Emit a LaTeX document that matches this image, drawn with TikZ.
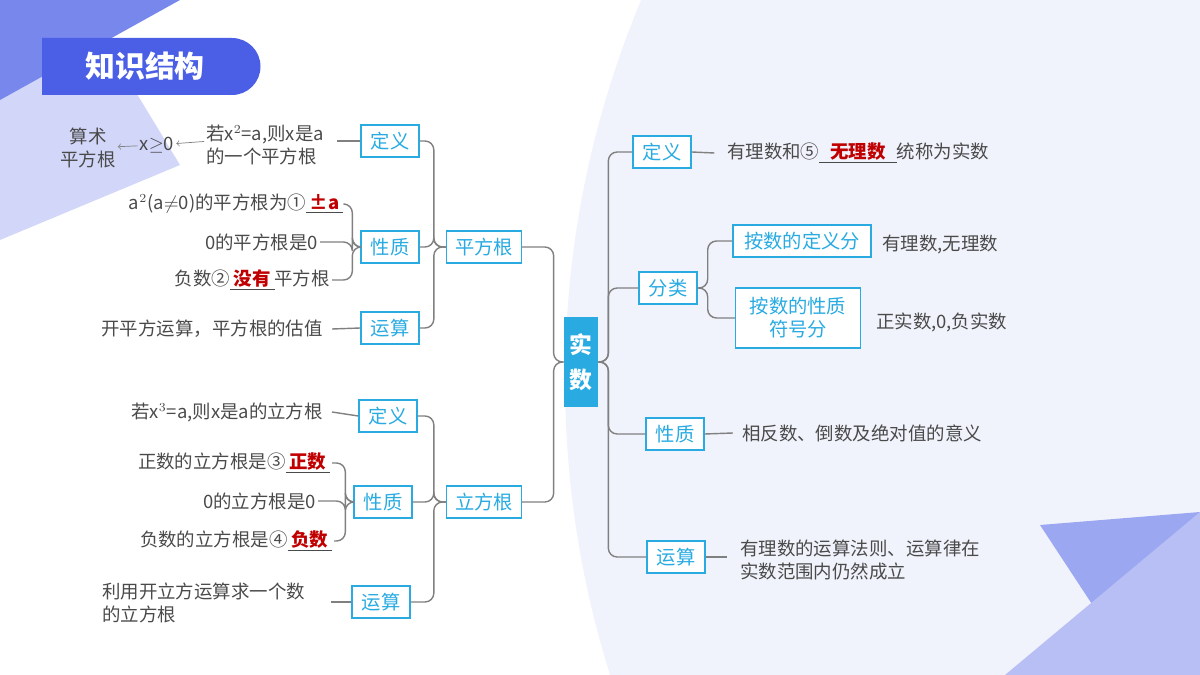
\documentclass[tikz,border=0pt]{standalone}
\usepackage{fontspec}
\setmainfont{Noto Sans CJK SC}
\usetikzlibrary{positioning}
\definecolor{boxcyan}{HTML}{29ABE2}
\definecolor{inkgray}{HTML}{4A4A4A}
\definecolor{bgblue}{HTML}{F1F3FC}
\definecolor{titleblue}{HTML}{4A5FE6}
\definecolor{blankred}{HTML}{C00000}
\newcommand{\blank}[2]{\underline{\makebox[#1]{\color{blankred}\bfseries #2}}}
\tikzset{
  topic/.style={draw=boxcyan, line width=0.8pt, text=boxcyan, fill=white,
    inner sep=3pt, minimum height=0.64cm, minimum width=1.16cm,
    font=\fontsize{11}{13}\selectfont, align=center},
  root/.style={fill=boxcyan, text=white, inner sep=3pt, minimum width=0.68cm,
    minimum height=1.8cm, font=\fontsize{13}{20}\selectfont\bfseries, align=center},
  leaf/.style={text=inkgray, inner sep=1pt, font=\fontsize{10.5}{13.5}\selectfont},
  link/.style={draw=gray, line width=0.8pt, rounded corners=5pt},
}
\begin{document}
\begin{tikzpicture}[x=0.02cm, y=-0.02cm]
  \useasboundingbox (0,0) rectangle (1200,675);
  % background
  \begin{scope}
    \clip (0,0) rectangle (1200,675);
    \fill[bgblue] (1548,380) circle (983);
    \fill[titleblue!25] (0,0) -- (80,0) -- (180,165) -- (0,240) -- cycle;
    \fill[titleblue!75] (0,0) -- (180,0) -- (0,100) -- cycle;
    \fill[titleblue!55] (1040,525) -- (1200,512) -- (1130,662) -- cycle;
    \fill[titleblue!40] (1005,675) -- (1200,512) -- (1200,675) -- cycle;
  \end{scope}
  \fill[titleblue] (42,38) -- (232,38) arc[start angle=-90, end angle=90, radius=28.5] -- (42,95) -- cycle;
  \node[text=white, font=\fontsize{17}{20}\selectfont\bfseries] (title) at (145,66) {知识结构};

  % root
  \node[root] (shishu) at (581,362) {实\\数};

  % square root branch
  \node[topic, minimum width=1.5cm] (pfg) at (484,247) {平方根};
  \node[topic] (pdef) at (390,141) {定义};
  \node[topic] (pprop) at (390,247) {性质};
  \node[topic] (pop) at (390,328) {运算};
  \node[leaf, align=left] (pdeft) at (265,145) {若x$^2$=a,则x是a\\的一个平方根};
  \node[leaf] (xge) at (157,145) {x$\geq$0};
  \node[leaf, align=center] (suanshu) at (88,148) {算术\\平方根};
  \node[leaf, anchor=east] (pp1) at (345,204) {a$^2$(a$\neq$0)的平方根为①\blank{2em}{±a}};
  \node[leaf, anchor=east] (pp2) at (320,242) {0的平方根是0};
  \node[leaf, anchor=east] (pp3) at (332,280) {负数②\blank{2.4em}{没有}平方根};
  \node[leaf, anchor=east] (popt) at (325,329) {开平方运算，平方根的估值};

  % cube root branch
  \node[topic, minimum width=1.5cm] (lfg) at (484,502) {立方根};
  \node[topic] (ldef) at (388,416) {定义};
  \node[topic] (lprop) at (383,502) {性质};
  \node[topic] (lop) at (381,602) {运算};
  \node[leaf, anchor=east] (ldeft) at (325,412) {若x$^3$=a,则x是a的立方根};
  \node[leaf, anchor=east] (lp1) at (332,463) {正数的立方根是③\blank{2.4em}{正数}};
  \node[leaf, anchor=east] (lp2) at (318,501) {0的立方根是0};
  \node[leaf, anchor=east] (lp3) at (334,541) {负数的立方根是④\blank{2.4em}{负数}};
  \node[leaf, anchor=west, align=left] (lopt) at (100,603) {利用开立方运算求一个数\\的立方根};

  % right side
  \node[topic] (rdef) at (662,152) {定义};
  \node[topic] (rcls) at (668,288) {分类};
  \node[topic, minimum width=2.76cm] (rcls1) at (802,241) {按数的定义分};
  \node[topic, minimum width=2.5cm, minimum height=1.2cm] (rcls2) at (798,318) {按数的性质\\符号分};
  \node[topic] (rprop) at (675,434) {性质};
  \node[topic] (rop) at (676,557) {运算};
  \node[leaf, anchor=west] (rdeft) at (725,153) {有理数和⑤\blank{4.2em}{无理数}统称为实数};
  \node[leaf, anchor=west] (rc1t) at (880,244) {有理数,无理数};
  \node[leaf, anchor=west] (rc2t) at (874,322) {正实数,0,负实数};
  \node[leaf, anchor=west] (rpropt) at (740,433) {相反数、倒数及绝对值的意义};
  \node[leaf, anchor=west, align=left] (ropt) at (738,560) {有理数的运算法则、运算律在\\实数范围内仍然成立};

  % connectors
  \foreach \c in {pfg, lfg}
    \draw[link] (shishu.west) -- ++(-10,0) |- (\c.east);
  \foreach \c in {rdef, rcls, rprop, rop}
    \draw[link] (shishu.east) -- ++(10,0) |- (\c.west);
  \foreach \c in {pdef, pprop, pop}
    \draw[link] (pfg.west) -- ++(-12,0) |- (\c.east);
  \foreach \c in {ldef, lprop, lop}
    \draw[link] (lfg.west) -- ++(-12,0) |- (\c.east);
  \foreach \c in {pp1, pp2, pp3}
    \draw[link] (pprop.west) -- ++(-8,0) |- (\c.east);
  \foreach \c in {lp1, lp2, lp3}
    \draw[link] (lprop.west) -- ++(-8,0) |- (\c.east);
  \foreach \c in {rcls1, rcls2}
    \draw[link] (rcls.east) -- ++(10,0) |- (\c.west);
  \draw[link] (pdef.west) -- ([xshift=6pt]pdef.west -| pdeft.east);
  \draw[link] (pop.west) -- ([xshift=4pt]popt.east);
  \draw[link] (ldef.west) -- ([xshift=4pt]ldeft.east);
  \draw[link] (lop.west) -- ++(-20,0);
  \draw[link] (rdef.east) -- ([xshift=-6pt]rdeft.west);
  \draw[link] (rprop.east) -- ([xshift=-4pt]rpropt.west);
  \draw[link] (rop.east) -- ([xshift=-6pt]rop.east -| ropt.west);
  \draw[gray, ->] ([yshift=2pt]pdeft.west) -- (xge);
  \draw[gray, ->] (xge) -- (suanshu);
\end{tikzpicture}
\end{document}
